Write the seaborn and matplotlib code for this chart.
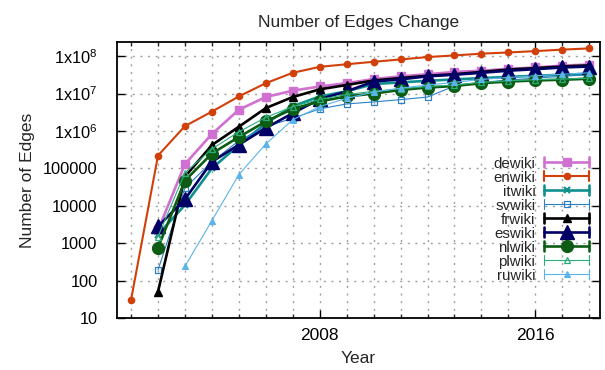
import numpy as np
import pandas as pd
import matplotlib
matplotlib.use("Agg")
import matplotlib.pyplot as plt
import seaborn as sns
from matplotlib.lines import Line2D
from matplotlib.legend_handler import HandlerBase
from matplotlib.ticker import FixedLocator, FuncFormatter, NullLocator

nan = np.nan
years = list(range(2001, 2019))
enwiki = [30, 2.2e5, 1.35e6, 3.3e6, 8.4e6, 1.9e7, 3.6e7, 5.2e7, 6.1e7, 7.1e7, 8.2e7, 9.5e7, 1.05e8, 1.17e8, 1.26e8, 1.37e8, 1.5e8, 1.62e8]
dewiki = [nan, 2200, 1.3e5, 8.3e5, 3.7e6, 8.1e6, 1.2e7, 1.55e7, 1.9e7, 2.45e7, 2.9e7, 3.3e7, 3.8e7, 4.1e7, 4.6e7, 5.0e7, 5.6e7, 6.0e7]
itwiki = [nan, 1700, 1.05e4, 1.0e5, 4.2e5, 1.6e6, 4.6e6, 8.4e6, 1.15e7, 1.8e7, 2.0e7, 2.2e7, 2.4e7, 2.6e7, 2.8e7, 3.0e7, 3.2e7, 3.4e7]
svwiki = [nan, 190, 3.0e4, 1.5e5, 5.5e5, 1.3e6, 2.2e6, 3.9e6, 5.3e6, 6.0e6, 6.9e6, 8.1e6, 1.6e7, 2.0e7, 2.3e7, 2.6e7, 2.9e7, 3.2e7]
frwiki = [nan, 50, 6e4, 4.2e5, 1.3e6, 4.1e6, 8.1e6, 1.3e7, 1.7e7, 2.25e7, 2.6e7, 3.0e7, 3.3e7, 3.8e7, 4.4e7, 4.8e7, 5.3e7, 5.7e7]
eswiki = [nan, 2800, 1.5e4, 1.5e5, 4.3e5, 1.2e6, 3.0e6, 7.1e6, 1.15e7, 2.1e7, 2.4e7, 2.9e7, 3.2e7, 3.6e7, 4.1e7, 4.5e7, 5.0e7, 5.3e7]
nlwiki = [nan, 750, 4.7e4, 2.5e5, 6.9e5, 1.8e6, 3.9e6, 6.2e6, 8.4e6, 1.0e7, 1.26e7, 1.45e7, 1.6e7, 1.9e7, 2.1e7, 2.25e7, 2.35e7, 2.5e7]
plwiki = [nan, 1500, 7.6e4, 3.3e5, 9.5e5, 2.3e6, 4.5e6, 7.0e6, 9.5e6, 1.15e7, 1.35e7, 1.55e7, 1.7e7, 2.0e7, 2.2e7, 2.35e7, 2.45e7, 2.6e7]
ruwiki = [nan, nan, 240, 4000, 6.8e4, 4.5e5, 2.0e6, 4.5e6, 7.5e6, 1.1e7, 1.4e7, 1.7e7, 2.0e7, 2.4e7, 2.7e7, 3.0e7, 3.3e7, 3.6e7]

series_names = ["dewiki", "enwiki", "itwiki", "svwiki", "frwiki", "eswiki", "nlwiki", "plwiki", "ruwiki"]
series_values = [dewiki, enwiki, itwiki, svwiki, frwiki, eswiki, nlwiki, plwiki, ruwiki]
x_tick_labels = [2008, 2016]
y_tick_values = [1e1, 1e2, 1e3, 1e4, 1e5, 1e6, 1e7, 1e8]

styles = {
    "dewiki": dict(color="#d070d0", lw=1.9, marker="s", ms=5.5, mfc="#d070d0", mew=1),
    "enwiki": dict(color="#d2400a", lw=1.5, marker="o", ms=4.5, mfc="#d2400a", mew=1),
    "itwiki": dict(color="#108f8f", lw=1.9, marker="x", ms=5, mfc="#108f8f", mew=1.6),
    "svwiki": dict(color="#2a80c4", lw=0.8, marker="s", ms=5, mfc="none", mew=0.9),
    "frwiki": dict(color="#000000", lw=1.9, marker="^", ms=6, mfc="#000000", mew=1),
    "eswiki": dict(color="#000066", lw=1.9, marker="^", ms=10, mfc="#000066", mew=1),
    "nlwiki": dict(color="#0c5c14", lw=1.9, marker="o", ms=8.5, mfc="#0c5c14", mew=1),
    "plwiki": dict(color="#2cae7c", lw=0.8, marker="^", ms=4.5, mfc="none", mew=0.9),
    "ruwiki": dict(color="#5ab4ea", lw=0.8, marker="^", ms=4, mfc="#5ab4ea", mew=0.8),
}

sns.set_style("ticks")
plt.rcParams["font.family"] = ["Liberation Sans", "DejaVu Sans"]
plt.rcParams["mathtext.fontset"] = "custom"
plt.rcParams["mathtext.rm"] = "Liberation Sans"
plt.rcParams["mathtext.default"] = "regular"

FS = 12.5
FS_Y = 11.8
FS_LEG = 10.8

fig = plt.figure(figsize=(6.05, 3.7), dpi=100)
ax = fig.add_axes([117 / 605, 1 - 318 / 370, 483 / 605, 276 / 370])

handles = []
for name, vals in zip(series_names, series_values):
    df = pd.DataFrame({"Year": years, "Edges": vals}).dropna()
    st = styles[name]
    sns.lineplot(data=df, x="Year", y="Edges", ax=ax, color=st["color"], lw=st["lw"],
                 marker=st["marker"], markersize=st["ms"], markerfacecolor=st["mfc"],
                 markeredgecolor=st["color"], markeredgewidth=st["mew"], label=name)
    handles.append(ax.lines[-1])

ax.set_yscale("log")
ax.set_xlim(2000.48, 2018.4)
ax.set_ylim(10, 2.4e8)

ax.xaxis.set_major_locator(FixedLocator(x_tick_labels))
ax.xaxis.set_minor_locator(FixedLocator([y for y in years if y not in x_tick_labels]))
ax.yaxis.set_major_locator(FixedLocator(y_tick_values))
ax.yaxis.set_minor_locator(NullLocator())

def yfmt(v, pos):
    e = int(round(np.log10(v)))
    if e >= 6:
        return r"1x10$^{%d}$" % e
    return "%d" % int(round(v))

ax.yaxis.set_major_formatter(FuncFormatter(yfmt))
ax.xaxis.set_major_formatter(FuncFormatter(lambda v, p: "%d" % v))

ax.tick_params(axis="both", which="major", direction="in", length=6, width=1, top=True, right=True, colors="black")
ax.tick_params(axis="both", which="minor", direction="in", length=3, width=1, top=True, right=True)
ax.tick_params(axis="x", which="major", pad=7, labelsize=FS)
ax.tick_params(axis="y", which="major", pad=14, labelsize=FS_Y)

ax.grid(True, which="both", axis="x", color="#a0a0a0", lw=1, linestyle=(0, (1.5, 4)))
ax.grid(True, which="major", axis="y", color="#a0a0a0", lw=1, linestyle=(0, (1.5, 4)))
for s in ax.spines.values():
    s.set_visible(True)
    s.set_color("black")
    s.set_linewidth(1.3)

ax.set_title("Number of Edges Change", fontsize=FS, pad=11)
ax.set_xlabel("Year", fontsize=FS, labelpad=6)
ax.set_ylabel("Number of Edges", fontsize=FS, labelpad=6)


class CapHandler(HandlerBase):
    def create_artists(self, legend, orig, xdescent, ydescent, width, height, fontsize, trans):
        y = height / 2 - ydescent
        x0 = -xdescent
        x1 = -xdescent + width
        col = orig.get_color()
        lw = orig.get_linewidth()
        ch = 7
        arts = [
            Line2D([x0, x1], [y, y], color=col, lw=lw),
            Line2D([x0, x0], [y - ch / 2, y + ch / 2], color=col, lw=lw),
            Line2D([x1, x1], [y - ch / 2, y + ch / 2], color=col, lw=lw),
            Line2D([(x0 + x1) / 2], [y], ls="none", marker=orig.get_marker(),
                   markersize=orig.get_markersize(), markerfacecolor=orig.get_markerfacecolor(),
                   markeredgecolor=orig.get_markeredgecolor(), markeredgewidth=orig.get_markeredgewidth()),
        ]
        for a in arts:
            a.set_transform(trans)
        return arts


leg = ax.legend(handles=handles, labels=series_names, loc="upper right",
                bbox_to_anchor=(0.978, 0.585), frameon=False, markerfirst=False,
                fontsize=FS_LEG, handlelength=3.0, handletextpad=0.6, labelspacing=0.0,
                borderpad=0, borderaxespad=0,
                handler_map={h: CapHandler() for h in handles})

fig.savefig("out.png", dpi=100)
